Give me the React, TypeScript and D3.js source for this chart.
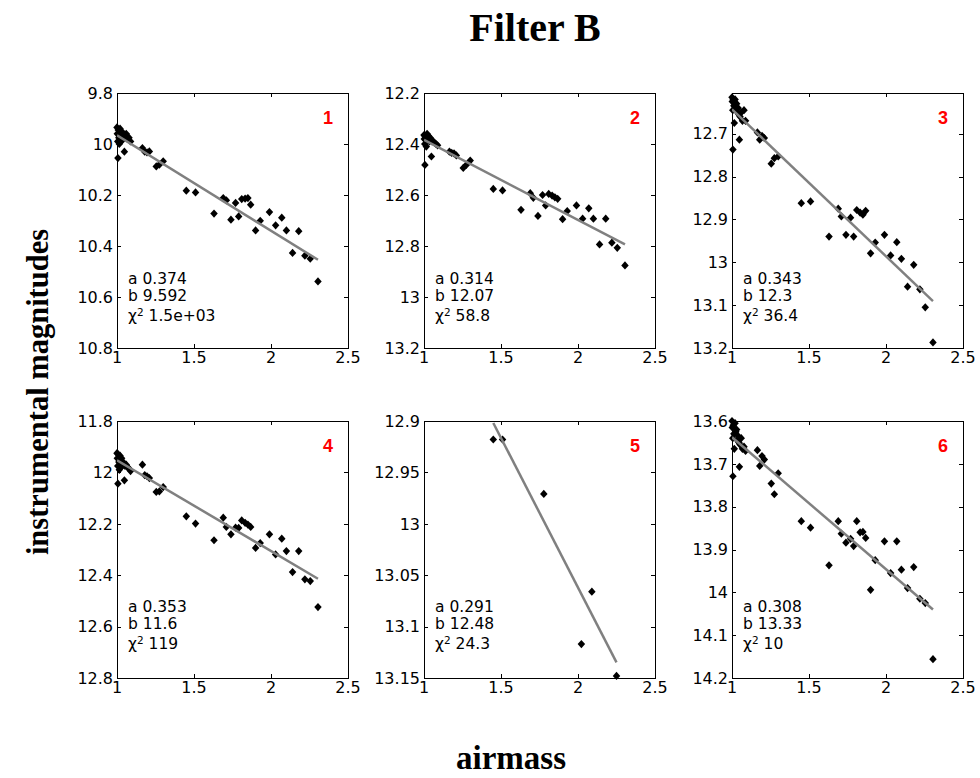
import React, { useEffect, useRef } from 'react';
import * as d3 from 'd3';

// airmass of every exposure (stars 1-4 and 6 share them)
const airmass = [
  1.000, 1.002, 1.005, 1.008, 1.012, 1.015, 1.020, 1.025, 1.030, 1.035,
  1.040, 1.045, 1.052, 1.060, 1.068, 1.078, 1.088, 1.006, 1.048,
  1.165, 1.18, 1.195, 1.21, 1.255, 1.275, 1.30,
  1.45, 1.51, 1.63, 1.69, 1.71, 1.74, 1.77, 1.79, 1.81, 1.832, 1.85, 1.868,
  1.90, 1.93, 1.99, 2.03, 2.07, 2.10, 2.14, 2.18, 2.22, 2.255, 2.305,
];

const mag1 = [
  9.935, 9.96, 9.99, 9.945, 9.975, 10.0, 9.94, 9.965, 9.95, 9.985,
  9.96, 9.975, 9.97, 9.96, 9.98, 9.975, 9.99, 10.055, 10.03,
  10.016, 10.03, 10.033, 10.029, 10.088, 10.081, 10.068,
  10.183, 10.19, 10.273, 10.212, 10.221, 10.297, 10.231, 10.284, 10.216, 10.214, 10.212, 10.238,
  10.339, 10.301, 10.267, 10.319, 10.289, 10.339, 10.427, 10.342, 10.438, 10.45, 10.539,
];

const mag2 = [
  12.365, 12.38, 12.4, 12.37, 12.385, 12.41, 12.36, 12.375, 12.37, 12.39,
  12.375, 12.385, 12.39, 12.39, 12.395, 12.4, 12.405, 12.482, 12.449,
  12.43, 12.435, 12.437, 12.445, 12.494, 12.482, 12.465,
  12.576, 12.582, 12.658, 12.593, 12.611, 12.682, 12.6, 12.641, 12.596, 12.602, 12.609, 12.615,
  12.695, 12.663, 12.641, 12.693, 12.652, 12.693, 12.794, 12.693, 12.787, 12.807, 12.876,
];

const mag3 = [
  12.615, 12.625, 12.645, 12.62, 12.635, 12.675, 12.62, 12.64, 12.63, 12.65,
  12.64, 12.655, 12.66, 12.65, 12.67, 12.645, 12.67, 12.737, 12.714,
  12.697, 12.714, 12.705, 12.71, 12.77, 12.757, 12.753,
  12.862, 12.858, 12.94, 12.875, 12.893, 12.936, 12.896, 12.94, 12.878, 12.884, 12.889, 12.88,
  12.979, 12.954, 12.936, 12.984, 12.953, 12.992, 13.057, 13.006, 13.063, 13.105, 13.187,
];

const mag4 = [
  11.925, 11.945, 11.975, 11.93, 11.96, 11.99, 11.935, 11.955, 11.945, 11.975,
  11.96, 11.97, 11.975, 11.97, 11.98, 11.985, 11.995, 12.044, 12.031,
  11.97, 12.011, 12.015, 12.022, 12.076, 12.074, 12.057,
  12.171, 12.199, 12.264, 12.176, 12.212, 12.241, 12.215, 12.216, 12.187, 12.196, 12.203, 12.212,
  12.294, 12.275, 12.241, 12.319, 12.258, 12.306, 12.388, 12.306, 12.416, 12.423, 12.524,
];

const mag6 = [
  13.6, 13.615, 13.64, 13.61, 13.63, 13.665, 13.605, 13.625, 13.62, 13.645,
  13.635, 13.65, 13.655, 13.64, 13.665, 13.66, 13.67, 13.729, 13.707,
  13.668, 13.705, 13.682, 13.69, 13.746, 13.771, 13.722,
  13.834, 13.849, 13.937, 13.834, 13.863, 13.884, 13.875, 13.892, 13.834, 13.86, 13.859, 13.873,
  13.994, 13.925, 13.881, 13.955, 13.881, 13.947, 13.99, 13.941, 14.015, 14.025, 14.156,
];

// star 5 only has a few exposures
const airmass5 = [1.45, 1.51, 1.778, 2.09, 2.022, 2.25];
const mag5 = [12.918, 12.918, 12.971, 13.066, 13.117, 13.148];

const starIds = ['1', '2', '3', '4', '5', '6'];
const slopeA = [0.374, 0.314, 0.343, 0.353, 0.291, 0.308];
const zeroB = [9.592, 12.07, 12.3, 11.6, 12.48, 13.33];
const aLabels = ['0.374', '0.314', '0.343', '0.353', '0.291', '0.308'];
const bLabels = ['9.592', '12.07', '12.3', '11.6', '12.48', '13.33'];
const chi2Labels = ['1.5e+03', '58.8', '36.4', '119', '24.3', '10'];

const yRanges = [[9.8, 10.8], [12.2, 13.2], [12.605, 13.2], [11.8, 12.8], [12.9, 13.15], [13.6, 14.2]];
const yTicks = [
  [9.8, 10, 10.2, 10.4, 10.6, 10.8],
  [12.2, 12.4, 12.6, 12.8, 13, 13.2],
  [12.7, 12.8, 12.9, 13, 13.1, 13.2],
  [11.8, 12, 12.2, 12.4, 12.6, 12.8],
  [12.9, 12.95, 13, 13.05, 13.1, 13.15],
  [13.6, 13.7, 13.8, 13.9, 14, 14.1, 14.2],
];
const xTicks = [1, 1.5, 2, 2.5];

const panelX = [117, 424, 732];
const panelY = [93, 421];
const panelW = 231;
const panelH = [255, 257];

const tickFont = '"DejaVu Sans", sans-serif';

// rotated square marker like matlab's 'd'
const diamond = {
  draw(ctx, size) {
    const r = Math.sqrt(size) / 2;
    ctx.moveTo(0, -r * 1.1);
    ctx.lineTo(r, 0);
    ctx.lineTo(0, r * 1.1);
    ctx.lineTo(-r, 0);
    ctx.closePath();
  },
};

const App = () => {
  const chartRef = useRef(null);

  useEffect(() => {
    document.body.style.margin = '0';
    drawChart();
  }, []);

  const drawChart = () => {
    d3.select(chartRef.current).select('svg').remove();

    const svg = d3.select(chartRef.current)
      .append('svg')
      .attr('width', 980)
      .attr('height', 778)
      .style('display', 'block')
      .style('background', '#fff');

    svg.append('text')
      .attr('x', 535)
      .attr('y', 41)
      .attr('text-anchor', 'middle')
      .style('font-family', '"Liberation Serif", serif')
      .style('font-weight', 'bold')
      .style('font-size', '40px')
      .text('Filter B');

    svg.append('text')
      .attr('transform', 'translate(48, 392) rotate(-90)')
      .attr('text-anchor', 'middle')
      .style('font-family', '"Liberation Serif", serif')
      .style('font-weight', 'bold')
      .style('font-size', '30.5px')
      .text('instrumental magnitudes');

    svg.append('text')
      .attr('x', 511)
      .attr('y', 769)
      .attr('text-anchor', 'middle')
      .style('font-family', '"Liberation Serif", serif')
      .style('font-weight', 'bold')
      .style('font-size', '33px')
      .text('airmass');

    const allX = [airmass, airmass, airmass, airmass, airmass5, airmass];
    const allY = [mag1, mag2, mag3, mag4, mag5, mag6];

    starIds.forEach((id, i) => {
      const row = Math.floor(i / 3);
      const col = i % 3;
      const w = panelW;
      const h = panelH[row];
      const g = svg.append('g')
        .attr('transform', `translate(${panelX[col]}, ${panelY[row]})`);

      const x = d3.scaleLinear().domain([1, 2.5]).range([0, w]);
      const y = d3.scaleLinear().domain(yRanges[i]).range([0, h]);

      const clipId = `clip-${id}`;
      g.append('clipPath').attr('id', clipId)
        .append('rect').attr('width', w).attr('height', h);

      // frame
      g.append('rect')
        .attr('width', w)
        .attr('height', h)
        .style('fill', 'none')
        .style('stroke', 'black')
        .style('stroke-width', 1)
        .style('shape-rendering', 'crispEdges');

      // inward ticks on all four sides
      const tl = 4;
      xTicks.forEach(t => {
        const px = Math.round(x(t)) + 0.5;
        g.append('line').attr('x1', px).attr('x2', px).attr('y1', 0).attr('y2', tl).style('stroke', 'black');
        g.append('line').attr('x1', px).attr('x2', px).attr('y1', h).attr('y2', h - tl).style('stroke', 'black');
        g.append('text')
          .attr('x', x(t))
          .attr('y', h + 15)
          .attr('text-anchor', 'middle')
          .style('font-family', tickFont)
          .style('font-size', '16px')
          .text(String(t));
      });
      yTicks[i].forEach(t => {
        const py = Math.round(y(t)) + 0.5;
        g.append('line').attr('x1', 0).attr('x2', tl).attr('y1', py).attr('y2', py).style('stroke', 'black');
        g.append('line').attr('x1', w).attr('x2', w - tl).attr('y1', py).attr('y2', py).style('stroke', 'black');
        g.append('text')
          .attr('x', -4)
          .attr('y', y(t))
          .attr('dy', '0.36em')
          .attr('text-anchor', 'end')
          .style('font-family', tickFont)
          .style('font-size', '16px')
          .text(String(t));
      });

      const pts = allX[i].map((d, k) => ({ am: d, mag: allY[i][k] }));

      g.selectAll('path.pt')
        .data(pts)
        .enter()
        .append('path')
        .attr('class', 'pt')
        .attr('transform', d => `translate(${x(d.am)}, ${y(d.mag)})`)
        .attr('d', d3.symbol().type(diamond).size(56))
        .style('fill', 'black');

      const [x0, x1] = d3.extent(allX[i]);
      const fit = d3.line()
        .x(d => x(d))
        .y(d => y(zeroB[i] + slopeA[i] * d));
      g.append('path')
        .attr('d', fit([x0, x1]))
        .attr('clip-path', `url(#${clipId})`)
        .style('fill', 'none')
        .style('stroke', '#808080')
        .style('stroke-width', 2.5);

      // fit results, one text per line
      const lines = [`a ${aLabels[i]}`, `b ${bLabels[i]}`];
      lines.forEach((s, k) => {
        g.append('text')
          .attr('x', 11)
          .attr('y', 191 + k * 17)
          .style('font-family', tickFont)
          .style('font-size', '15.5px')
          .text(s);
      });
      const chi = g.append('text')
        .attr('x', 11)
        .attr('y', 228)
        .style('font-family', tickFont)
        .style('font-size', '15.5px');
      chi.append('tspan').text('\u03c7');
      chi.append('tspan').attr('dy', -5).style('font-size', '10.5px').text('2');
      chi.append('tspan').attr('dy', 5).text(` ${chi2Labels[i]}`);

      g.append('text')
        .attr('x', w - 20)
        .attr('y', 30.5)
        .attr('text-anchor', 'middle')
        .style('font-family', '"Liberation Sans", sans-serif')
        .style('font-weight', 'bold')
        .style('font-size', '18px')
        .style('fill', 'red')
        .text(id);
    });
  };

  return (
    <div ref={chartRef}></div>
  );
};

export default App;
